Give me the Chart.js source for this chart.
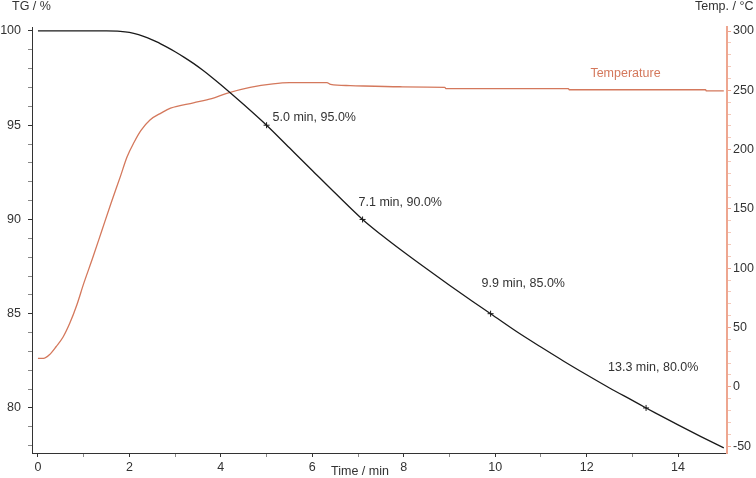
<!DOCTYPE html>
<html>
<head>
<meta charset="utf-8">
<script src="https://cdn.jsdelivr.net/npm/chart.js@4"></script>
<style>
  body { margin: 0; background: #fff; }
  canvas { display: block; }
</style>
</head>
<body>
<canvas id="myChart" width="756" height="478"></canvas>
<script>
// TG curve (mass %)
let tgTime = [0, 0.5, 1.0, 1.5, 1.8, 2.0, 2.2, 2.4, 2.6, 2.8, 3.0, 3.2, 3.4, 3.6, 3.8, 4.0, 4.5, 5.0, 5.5, 6.0, 6.5, 7.1, 7.5, 8.0, 8.5, 9.0, 9.5, 9.9, 10.5, 11.0, 11.5, 12.0, 12.5, 13.0, 13.3, 13.5, 14.0, 14.5, 15.0];
let tgValue = [100, 100, 100, 100, 99.98, 99.92, 99.8, 99.63, 99.42, 99.17, 98.9, 98.6, 98.28, 97.93, 97.55, 97.15, 96.1, 95.0, 93.8, 92.6, 91.4, 90.0, 89.2, 88.27, 87.38, 86.51, 85.66, 85.0, 84.0, 83.23, 82.48, 81.76, 81.06, 80.4, 80.0, 79.74, 79.1, 78.48, 77.88];

// Temperature curve (°C)
let tempTime = [0, 0.12, 0.25, 0.4, 0.55, 0.7, 0.85, 1.0, 1.2, 1.4, 1.6, 1.8, 1.95, 2.1, 2.25, 2.45, 2.7, 2.9, 3.4, 3.8, 4.13, 4.64, 5.14, 5.5, 6.32, 6.4, 6.83, 7.92, 8.9, 8.92, 11.6, 11.62, 14.6, 14.62, 15.0];
let tempValue = [24, 24, 27, 34, 42, 54, 69, 87, 109, 132, 155, 177, 194, 206, 216, 225, 231, 235, 239.5, 243, 247.5, 252.5, 255.5, 256.5, 256.5, 255, 254, 253, 252.5, 251.5, 251.5, 250.5, 250.5, 249.5, 249.5];

// Marked points on the TG curve
let markTime = [5.0, 7.1, 9.9, 13.3];
let markValue = [95.0, 90.0, 85.0, 80.0];

// Tick labels
let timeTickLabels = [0, 2, 4, 6, 8, 10, 12, 14];
let tgTickLabels = [80, 85, 90, 95, 100];
let tempTickLabels = [-50, 0, 50, 100, 150, 200, 250, 300];

const font = { family: "'Liberation Sans', Arial, sans-serif", size: 12.5 };
const textColor = '#333';
const tempColor = '#d4785c';
const tempAxisColor = '#eea690';

function makeTicks(from, to, step) {
    let list = [];
    for (let v = from; v <= to + 1e-9; v += step) list.push({ value: v });
    return list;
}
function hasLabel(list, v) {
    return list.some(l => Math.abs(l - v) < 1e-6);
}

// offsets (px) of each annotation text from its marked point
const markTextOffset = [[6, -8], [-4, -17], [-9, -30], [-38, -40]];

const textPlugin = {
    id: 'texts',
    afterDraw(chart) {
        const c = chart.ctx;
        const xs = chart.scales.x, ys = chart.scales.y, ts = chart.scales.y2;
        c.save();
        c.font = font.size + 'px ' + font.family;
        c.textBaseline = 'middle';
        c.fillStyle = textColor;
        c.textAlign = 'left';
        c.fillText('TG / %', 12, 7);
        c.fillText('Temp. / \u00b0C', 695, 7);
        c.textAlign = 'center';
        c.fillText('Time / min', 360, 472);

        c.textAlign = 'left';
        markTime.forEach((t, i) => {
            const px = xs.getPixelForValue(t) + markTextOffset[i][0];
            const py = ys.getPixelForValue(markValue[i]) + markTextOffset[i][1];
            c.fillText(t.toFixed(1) + ' min, ' + markValue[i].toFixed(1) + '%', px, py);
        });

        c.fillStyle = tempColor;
        c.textAlign = 'center';
        c.fillText('Temperature', xs.getPixelForValue(12.85), ts.getPixelForValue(264.5));
        c.restore();
    }
};

let ctx = document.getElementById('myChart').getContext('2d');
let myChart = new Chart(ctx, {
    type: 'line',
    data: {
        datasets: [{
            label: 'TG',
            data: tgTime.map((t, i) => ({ x: t, y: tgValue[i] })),
            borderColor: '#1a1a1a',
            borderWidth: 1.3,
            pointRadius: 0,
            cubicInterpolationMode: 'monotone',
            yAxisID: 'y'
        }, {
            label: 'Temperature',
            data: tempTime.map((t, i) => ({ x: t, y: tempValue[i] })),
            borderColor: tempColor,
            borderWidth: 1.3,
            pointRadius: 0,
            cubicInterpolationMode: 'monotone',
            yAxisID: 'y2'
        }, {
            label: 'marks',
            data: markTime.map((t, i) => ({ x: t, y: markValue[i] })),
            showLine: false,
            pointStyle: 'cross',
            pointRadius: 3,
            borderColor: '#1a1a1a',
            borderWidth: 1,
            yAxisID: 'y'
        }]
    },
    options: {
        responsive: false,
        animation: false,
        layout: { padding: { top: 27, left: 0, right: 0, bottom: 0 } },
        plugins: {
            legend: { display: false },
            tooltip: { enabled: false }
        },
        scales: {
            x: {
                type: 'linear',
                min: -0.13,
                max: 15.07,
                afterBuildTicks: s => { s.ticks = makeTicks(0, 14, 1); },
                afterFit: s => { s.height = 25; },
                ticks: {
                    autoSkip: false,
                    maxRotation: 0,
                    padding: 3,
                    color: textColor,
                    font: font,
                    callback: v => hasLabel(timeTickLabels, v) ? String(v) : ''
                },
                grid: {
                    drawOnChartArea: false,
                    tickLength: 4,
                    tickColor: c => hasLabel(timeTickLabels, c.tick.value) ? '#333' : '#888'
                },
                border: { color: '#333', width: 1 }
            },
            y: {
                position: 'left',
                min: 77.61,
                max: 100.21,
                afterBuildTicks: s => { s.ticks = makeTicks(78, 100, 1); },
                afterFit: s => { s.width = 32; },
                ticks: {
                    autoSkip: false,
                    padding: 7,
                    color: textColor,
                    font: font,
                    callback: v => hasLabel(tgTickLabels, v) ? String(v) : ''
                },
                grid: {
                    drawOnChartArea: false,
                    tickLength: 4,
                    tickColor: c => hasLabel(tgTickLabels, c.tick.value) ? '#333' : '#888'
                },
                border: { color: '#333', width: 1 }
            },
            y2: {
                position: 'right',
                min: -55.8,
                max: 303.4,
                afterBuildTicks: s => { s.ticks = makeTicks(-50, 300, 10); },
                afterFit: s => { s.width = 29; },
                ticks: {
                    autoSkip: false,
                    padding: 2,
                    color: textColor,
                    font: font,
                    callback: v => hasLabel(tempTickLabels, v) ? String(v) : ''
                },
                grid: {
                    drawOnChartArea: false,
                    tickLength: 4,
                    tickColor: c => hasLabel(tempTickLabels, c.tick.value) ? tempAxisColor : '#f4c8ba'
                },
                border: { color: tempAxisColor, width: 2 }
            }
        }
    },
    plugins: [textPlugin]
});
</script>
</body>
</html>
